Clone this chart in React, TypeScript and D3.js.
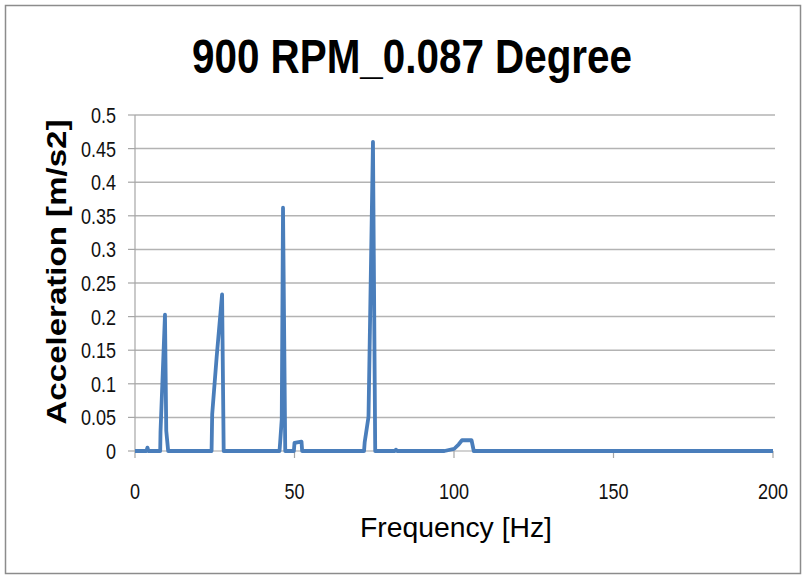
import React, { useEffect, useRef } from 'react';
import * as d3 from 'd3';

// spectrum (Hz, m/s2)
const freqHz = [
  0, 3.6, 3.9, 4.2, 7.9, 8.0, 9.4, 9.8, 10.4,
  24.0, 24.2, 25.6, 27.3, 27.8,
  45.3, 45.5, 46.0, 46.4, 47.1,
  49.8, 50.0, 52.2, 52.4,
  71.8, 72.0, 73.2, 74.6, 75.3,
  81.5, 81.8, 82.1,
  97.0, 100.0, 101.5, 102.5, 105.5, 106.2, 200,
];
const accel = [
  0, 0, 0.005, 0, 0, 0.029, 0.203, 0.03, 0,
  0, 0.055, 0.14, 0.233, 0,
  0, 0.013, 0.047, 0.362, 0,
  0, 0.012, 0.014, 0,
  0, 0.013, 0.051, 0.46, 0,
  0, 0.002, 0,
  0, 0.003, 0.01, 0.016, 0.016, 0, 0,
];
const yTicks = [0, 0.05, 0.1, 0.15, 0.2, 0.25, 0.3, 0.35, 0.4, 0.45, 0.5];
const xTicks = [0, 50, 100, 150, 200];
const title = '900 RPM_0.087 Degree';

const font = '"Liberation Sans", Arial, sans-serif';
// the source uses a condensed face, so squeeze horizontally
const squeeze = 0.82;

export default function App() {
  const ref = useRef<SVGSVGElement>(null);

  useEffect(() => {
    const width = 806;
    const height = 578;
    const margin = { top: 115, right: 33, bottom: 127, left: 135 };

    const svg = d3.select(ref.current);
    svg.selectAll('*').remove();

    svg.append('rect')
      .attr('x', 5.5).attr('y', 5.5)
      .attr('width', width - 11).attr('height', height - 10)
      .attr('fill', '#fff').attr('stroke', '#8c8c8c').attr('stroke-width', 1.5);

    const x = d3.scaleLinear().domain([0, 200]).range([margin.left, width - margin.right]);
    const y = d3.scaleLinear().domain([0, 0.5]).range([height - margin.bottom, margin.top]);

    // gridlines
    svg.append('g')
      .selectAll('line')
      .data(yTicks.filter(d => d > 0))
      .join('line')
      .attr('x1', x(0)).attr('x2', x(200) + 2)
      .attr('y1', d => y(d)).attr('y2', d => y(d))
      .attr('stroke', '#b3b3b3').attr('stroke-width', 1.5);

    // y axis
    const yAxis = svg.append('g');
    yAxis.append('line')
      .attr('x1', x(0)).attr('x2', x(0))
      .attr('y1', y(0.5)).attr('y2', y(0))
      .attr('stroke', '#a6a6a6').attr('stroke-width', 1.2);
    yAxis.selectAll('line.tick')
      .data(yTicks)
      .join('line')
      .attr('class', 'tick')
      .attr('x1', x(0) - 7).attr('x2', x(0))
      .attr('y1', d => y(d)).attr('y2', d => y(d))
      .attr('stroke', '#a6a6a6').attr('stroke-width', 1.2);
    yAxis.selectAll('text')
      .data(yTicks)
      .join('text')
      .attr('transform', d => `translate(116, ${y(d)}) scale(${squeeze}, 1)`)
      .attr('dy', '0.36em')
      .attr('text-anchor', 'end')
      .attr('font-family', font)
      .attr('font-size', 22)
      .attr('fill', '#111')
      .text(d => String(d));

    // x axis
    const xAxis = svg.append('g');
    xAxis.append('line')
      .attr('x1', x(0)).attr('x2', x(200))
      .attr('y1', y(0)).attr('y2', y(0))
      .attr('stroke', '#a6a6a6').attr('stroke-width', 1.2);
    xAxis.selectAll('line.tick')
      .data(xTicks)
      .join('line')
      .attr('class', 'tick')
      .attr('x1', d => x(d)).attr('x2', d => x(d))
      .attr('y1', y(0)).attr('y2', y(0) + 7)
      .attr('stroke', '#a6a6a6').attr('stroke-width', 1.2);
    xAxis.selectAll('text')
      .data(xTicks)
      .join('text')
      .attr('transform', d => `translate(${x(d)}, 499) scale(${squeeze}, 1)`)
      .attr('text-anchor', 'middle')
      .attr('font-family', font)
      .attr('font-size', 22)
      .attr('fill', '#111')
      .text(d => String(d));

    // spectrum line
    const pts: [number, number][] = freqHz.map((f, i) => [f, accel[i]]);
    const line = d3.line<[number, number]>()
      .x(d => x(d[0]))
      .y(d => y(d[1]));
    svg.append('path')
      .datum(pts)
      .attr('d', line)
      .attr('fill', 'none')
      .attr('stroke', '#4a7ebb')
      .attr('stroke-width', 3.8)
      .attr('stroke-linejoin', 'round');

    // titles
    svg.append('text')
      .attr('x', 412).attr('y', 73)
      .attr('text-anchor', 'middle')
      .attr('font-family', font)
      .attr('font-weight', 'bold')
      .attr('font-size', 48)
      .attr('textLength', 440)
      .attr('lengthAdjust', 'spacingAndGlyphs')
      .attr('fill', '#000')
      .text(title);

    svg.append('text')
      .attr('transform', 'translate(66, 272) rotate(-90)')
      .attr('text-anchor', 'middle')
      .attr('font-family', font)
      .attr('font-weight', 'bold')
      .attr('font-size', 27)
      .attr('textLength', 305)
      .attr('lengthAdjust', 'spacingAndGlyphs')
      .attr('fill', '#000')
      .text('Acceleration  [m/s2]');

    svg.append('text')
      .attr('x', 456).attr('y', 537)
      .attr('text-anchor', 'middle')
      .attr('font-family', font)
      .attr('font-size', 28)
      .attr('textLength', 192)
      .attr('lengthAdjust', 'spacingAndGlyphs')
      .attr('fill', '#000')
      .text('Frequency [Hz]');
  }, []);

  return (
    <div style={{ position: 'absolute', left: 0, top: 0 }}>
      <svg ref={ref} width={806} height={578} style={{ display: 'block' }} />
    </div>
  );
}
